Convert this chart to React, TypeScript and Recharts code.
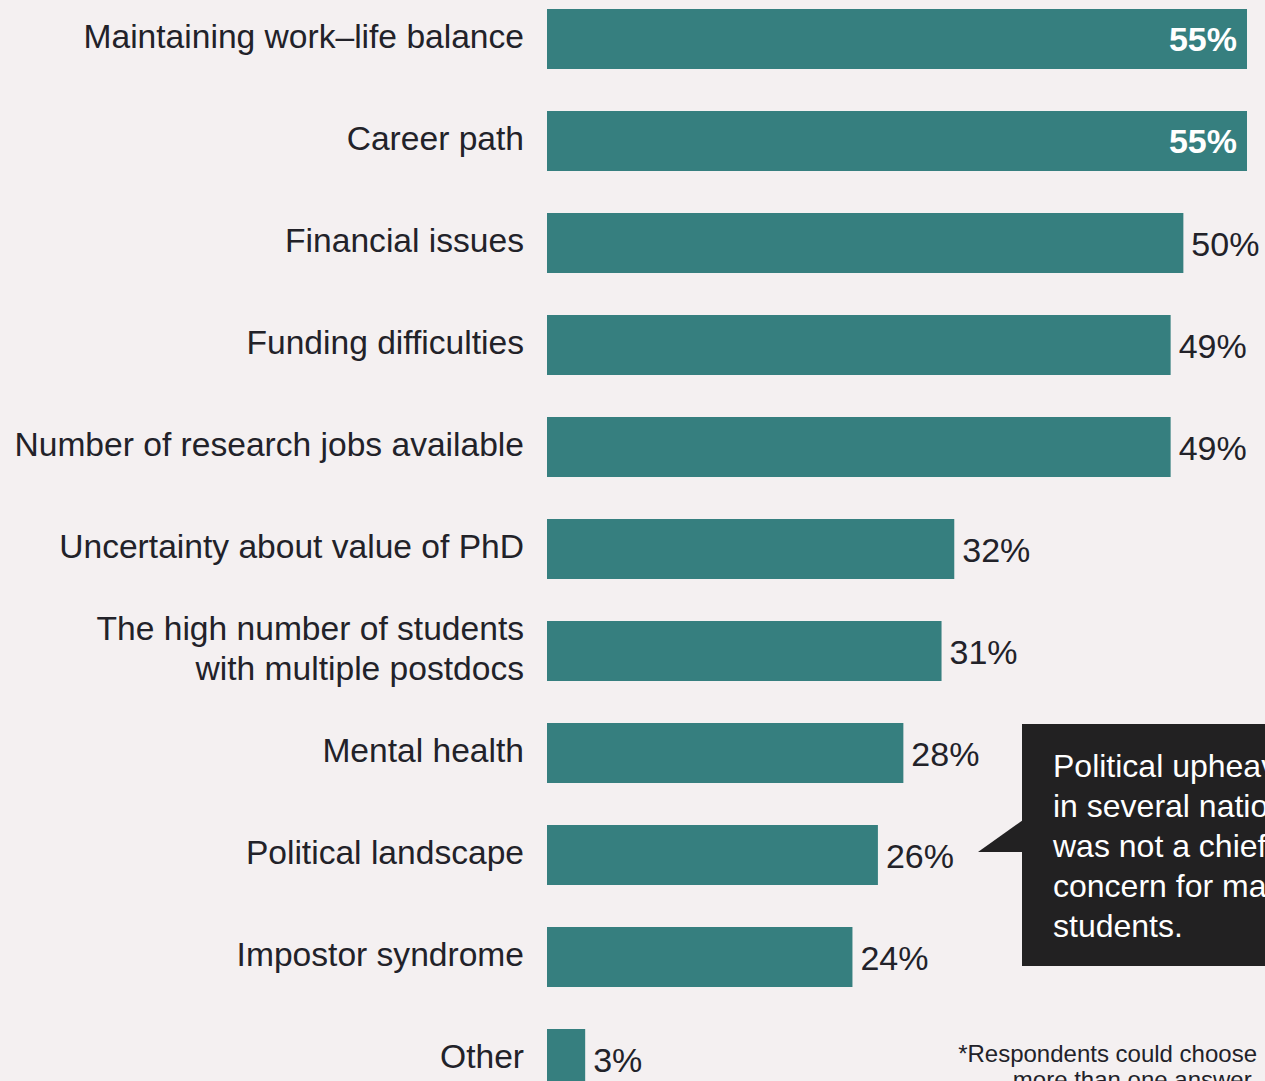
import React from 'react';
import { BarChart, Bar, XAxis, YAxis, LabelList } from 'recharts';

const categories = [
  'Maintaining work\u2013life balance',
  'Career path',
  'Financial issues',
  'Funding difficulties',
  'Number of research jobs available',
  'Uncertainty about value of PhD',
  'The high number of students\nwith multiple postdocs',
  'Mental health',
  'Political landscape',
  'Impostor syndrome',
  'Other',
];
const values = [55, 55, 50, 49, 49, 32, 31, 28, 26, 24, 3];
const calloutLines = ['Political upheaval', 'in several nations', 'was not a chief', 'concern for many', 'students.'];
const footnoteLines = ['*Respondents could choose', 'more than one answer.'];

const data = categories.map((name, i) => ({ name, value: values[i] }));

const FONT = '"Liberation Sans", Arial, sans-serif';
const BG = '#f4f0f1';
const TEAL = '#367f7f';
const TEXT = '#222229';

const CatTick = (props: any) => {
  const { x, y, payload } = props;
  const lines: string[] = String(payload.value).split('\n');
  const lh = 40;
  const start = -((lines.length - 1) * lh) / 2;
  return (
    <text x={x} y={y} textAnchor="end" fontFamily={FONT} fontSize={33.6} fill={TEXT}>
      {lines.map((l, i) => (
        <tspan key={i} x={x} dy={i === 0 ? start + 9 : lh}>{l}</tspan>
      ))}
    </text>
  );
};

const ValueLabel = (props: any) => {
  const { x, y, width, height, value } = props;
  const cy = y + height / 2;
  if (value >= 55) {
    return (
      <text x={x + width - 10} y={cy + 12} textAnchor="end" fontFamily={FONT} fontSize={34} fontWeight="bold" fill="#ffffff">
        {value}%
      </text>
    );
  }
  return (
    <text x={x + width + 8} y={cy + 13} textAnchor="start" fontFamily={FONT} fontSize={34} fill={TEXT}>
      {value}%
    </text>
  );
};

export default function App() {
  return (
    <div style={{ position: 'absolute', left: 0, top: 0, width: 1265, height: 1081, overflow: 'hidden', background: BG }}>
      <div style={{ position: 'absolute', left: 0, top: -12 }}>
        <BarChart width={1265} height={1122} data={data} layout="vertical" margin={{ top: 0, right: 18, bottom: 0, left: 0 }}>
          <XAxis type="number" domain={[0, 55]} hide />
          <YAxis
            type="category"
            dataKey="name"
            width={547}
            tickLine={false}
            axisLine={false}
            tickSize={0}
            tickMargin={23}
            interval={0}
            tick={<CatTick />}
          />
          <Bar dataKey="value" fill={TEAL} barSize={60} isAnimationActive={false}>
            <LabelList dataKey="value" content={<ValueLabel />} />
          </Bar>
        </BarChart>
      </div>
      <svg width={1265} height={1081} style={{ position: 'absolute', left: 0, top: 0, pointerEvents: 'none' }}>
        <rect x={1022} y={724} width={260} height={242} fill="#222122" />
        <polygon points="978,852 1023,820 1023,852" fill="#222122" />
        <text fontFamily={FONT} fontSize={32} fill="#ffffff">
          {calloutLines.map((l, i) => (
            <tspan key={i} x={1053} y={777 + i * 40}>{l}</tspan>
          ))}
        </text>
        <text fontFamily={FONT} fontSize={24} fill={TEXT} textAnchor="end">
          {footnoteLines.map((l, i) => (
            <tspan key={i} x={1257} y={1062 + i * 26}>{l}</tspan>
          ))}
        </text>
      </svg>
    </div>
  );
}
